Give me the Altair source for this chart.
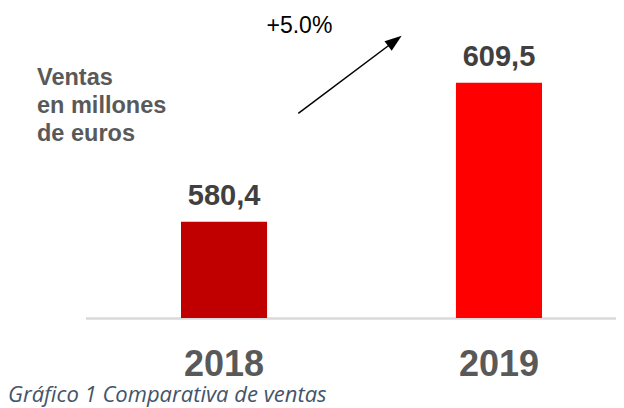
import altair as alt
import pandas as pd

# ---- data ----
years = ["2018", "2019"]
sales = [580.4, 609.5]
sales_labels = ["580,4", "609,5"]
bar_colors = ["#C00000", "#FF0000"]
unit_lines = ["Ventas", "en millones", "de euros"]
growth_label = "+5.0%"
caption = "Gráfico 1 Comparativa de ventas"

df = pd.DataFrame({"year": years, "sales": sales, "label": sales_labels, "color": bar_colors})

FONT = "Liberation Sans"

xscale = alt.Scale(domain=years, range=[173, 534], paddingInner=0.687, paddingOuter=0)
yscale = alt.Scale(domain=[560.3, 625.1], zero=False, nice=False)

base = alt.Chart(df)

baseline = base.mark_rule(color="#D9D9D9", strokeWidth=2).encode(
    x=alt.value(78), x2=alt.value(608), y=alt.value(310.5)
)

bars = base.mark_bar().encode(
    x=alt.X("year:N", scale=xscale, axis=None),
    y=alt.Y("sales:Q", scale=yscale, axis=None, stack=None),
    y2=alt.value(310),
    color=alt.Color("color:N", scale=None),
)

values = base.mark_text(
    font=FONT, fontSize=29, fontWeight="bold", color="#404040",
    baseline="alphabetic", align="center", dy=-17,
).encode(
    x=alt.X("year:N", scale=xscale, axis=None),
    y=alt.Y("sales:Q", scale=yscale, axis=None, stack=None),
    text="label:N",
)

year_text = base.mark_text(
    font=FONT, fontSize=36, fontWeight="bold", color="#595959",
    baseline="alphabetic", align="center",
).encode(
    x=alt.X("year:N", scale=xscale, axis=None),
    y=alt.value(368),
    text="year:N",
)

unit_text = alt.Chart(pd.DataFrame({"t": ["\n".join(unit_lines)]})).mark_text(
    font=FONT, fontSize=23.5, fontWeight="bold", color="#595959",
    baseline="alphabetic", align="left", lineBreak="\n", lineHeight=28,
).encode(x=alt.value(29), y=alt.value(77), text="t:N")

growth_text = alt.Chart(pd.DataFrame({"t": [growth_label]})).mark_text(
    font=FONT, fontSize=23, color="#000000", baseline="alphabetic", align="left",
).encode(x=alt.value(258.5), y=alt.value(25.3), text="t:N")

arrow_line = alt.Chart(pd.DataFrame({"a": [0]})).mark_rule(color="#000000", strokeWidth=1.5).encode(
    x=alt.value(290.3), y=alt.value(105.3), x2=alt.value(388), y2=alt.value(32)
)

arrow_head = alt.Chart(pd.DataFrame({"a": [0]})).mark_point(
    shape="M0,-1L0.7,1L-0.7,1Z", filled=True, color="#000000", opacity=1,
    size=289, angle=53.1, strokeWidth=0,
).encode(x=alt.value(386.9), y=alt.value(32.8))

caption_text = alt.Chart(pd.DataFrame({"t": [caption]})).mark_text(
    font="Open Sans", fontSize=22, fontStyle="italic", color="#44546A",
    baseline="alphabetic", align="left",
).encode(x=alt.value(0), y=alt.value(394), text="t:N")

chart = alt.layer(
    baseline, bars, values, year_text, unit_text, growth_text, arrow_line, arrow_head, caption_text
).properties(
    width=608, height=310,
    autosize=alt.AutoSizeParams(type="none"),
    padding={"left": 0, "top": 0, "right": 0, "bottom": 92},
).configure(
    background="#FFFFFF",
    view=alt.ViewConfig(stroke="transparent", strokeWidth=0),
)

chart.save("out.html", embed_options={"renderer": "svg", "actions": False})
